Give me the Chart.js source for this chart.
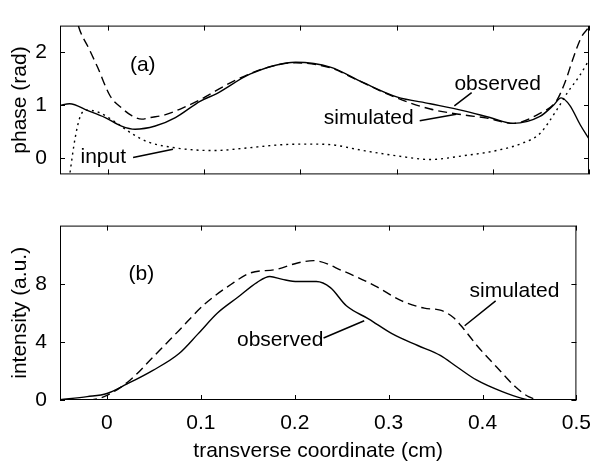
<!DOCTYPE html>
<html>
<head>
<meta charset="utf-8">
<script src="https://cdn.jsdelivr.net/npm/chart.js@4/dist/chart.umd.min.js"></script>
<style>
    body { margin: 0; background: #fff; }
    #wrap { position: relative; width: 602px; height: 465px; }
    canvas { position: absolute; left: 0; }
    #phase { top: 0; }
    #intensity { top: 200px; }
</style>
</head>
<body>
<div id="wrap">
    <canvas id="phase" width="602" height="200"></canvas>
    <canvas id="intensity" width="602" height="265"></canvas>
</div>
<script>
const xTicks = [0, 0.1, 0.2, 0.3, 0.4, 0.5]
const phaseTicks = [0, 1, 2]
const intensityTicks = [0, 4, 8]

// (a) phase, rad
const obsPhaseX = [-0.05, -0.04, -0.021, -0.003, 0.014, 0.028, 0.049, 0.07, 0.096, 0.113, 0.148, 0.195, 0.231, 0.265, 0.3, 0.335, 0.369, 0.397, 0.421, 0.449, 0.463, 0.471, 0.48, 0.491, 0.5]
const obsPhaseY = [1.0, 1.03, 0.9, 0.77, 0.61, 0.55, 0.61, 0.77, 1.08, 1.22, 1.59, 1.81, 1.72, 1.43, 1.16, 1.03, 0.9, 0.77, 0.66, 0.79, 1.0, 1.14, 1.0, 0.63, 0.37]

const simPhaseX = [-0.034, -0.031, -0.02, -0.011, 0.002, 0.014, 0.025, 0.035, 0.0436, 0.059, 0.075, 0.096, 0.13, 0.165, 0.195, 0.232, 0.255, 0.3, 0.335, 0.369, 0.394, 0.421, 0.449, 0.466, 0.475, 0.484, 0.492, 0.5]
const simPhaseY = [2.75, 2.5, 2.07, 1.72, 1.18, 0.95, 0.8, 0.74, 0.77, 0.82, 0.93, 1.11, 1.45, 1.71, 1.8, 1.7, 1.51, 1.14, 0.93, 0.82, 0.76, 0.66, 0.85, 1.08, 1.43, 1.91, 2.28, 2.47]

const inPhaseX = [-0.042, -0.0396, -0.0344, -0.029, -0.0223, -0.01, 0.0072, 0.0245, 0.0415, 0.066, 0.09, 0.113, 0.14, 0.182, 0.21, 0.231, 0.265, 0.3, 0.335, 0.369, 0.404, 0.431, 0.449, 0.466, 0.478, 0.49, 0.5]
const inPhaseY = [-0.6, -0.27, 0.37, 0.79, 0.91, 0.87, 0.69, 0.47, 0.31, 0.21, 0.16, 0.15, 0.19, 0.26, 0.27, 0.26, 0.15, 0.05, -0.02, 0.05, 0.15, 0.29, 0.47, 0.9, 1.25, 1.55, 1.85]

// (b) intensity, a.u.
const obsIntX = [-0.05, -0.021, 0.0, 0.021, 0.049, 0.0765, 0.097, 0.118, 0.139, 0.16, 0.1735, 0.187, 0.203, 0.223, 0.238, 0.255, 0.279, 0.304, 0.331, 0.355, 0.373, 0.394, 0.421, 0.442, 0.452, 0.5]
const obsIntY = [0.02, 0.23, 0.45, 1.09, 2.04, 3.18, 4.55, 6.0, 7.05, 8.1, 8.5, 8.3, 8.15, 8.15, 7.73, 6.48, 5.57, 4.55, 3.75, 3.07, 2.27, 1.36, 0.57, 0.11, 0, 0]

const simIntX = [-0.05, -0.02, -0.003, 0.0245, 0.049, 0.0765, 0.104, 0.132, 0.153, 0.18, 0.203, 0.22, 0.252, 0.286, 0.314, 0.338, 0.355, 0.369, 0.38, 0.394, 0.415, 0.435, 0.449, 0.463, 0.5]
const simIntY = [0, 0, 0.23, 1.36, 2.95, 4.77, 6.59, 7.95, 8.75, 8.98, 9.43, 9.59, 8.86, 7.84, 6.82, 6.32, 6.18, 5.68, 4.89, 3.75, 2.27, 0.91, 0.23, 0, 0]

// text labels and leader lines, in data units
const phaseNotes = [['(a)', 0.036, 1.75], ['input', -0.005, 0.02], ['observed', 0.405, 1.39], ['simulated', 0.271, 0.75]]
const phaseLeaders = [[0.026, 0.016, 0.0675, 0.175], [0.36, 0.99, 0.378, 1.24], [0.324, 0.71, 0.362, 0.83]]
const intensityNotes = [['(b)', 0.0366, 8.64], ['observed', 0.1845, 4.09], ['simulated', 0.434, 7.5]]
const intensityLeaders = [[0.2307, 4.27, 0.274, 5.45], [0.414, 6.82, 0.381, 5.11]]

Chart.defaults.font.family = '"Liberation Sans", Arial, Helvetica, sans-serif'
Chart.defaults.font.size = 21
Chart.defaults.color = '#000'

const DASHED = [9, 5]
const DOTTED = [2, 4]

function series(xs, ys, dash) {
    return {
        data: xs.map((x, i) => ({ x: x, y: ys[i] })),
        borderColor: '#000',
        borderWidth: 1.4,
        borderDash: dash,
        pointRadius: 0,
        fill: false,
        cubicInterpolationMode: 'monotone'
    }
}

// box, inward ticks on four sides, labels with leader lines
const frame = {
    id: 'frame',
    afterDraw(chart, args, opts) {
        const { ctx, chartArea: a, scales: { x, y } } = chart
        ctx.save()
        ctx.strokeStyle = '#000'
        ctx.lineWidth = 1
        ctx.strokeRect(a.left + 0.5, a.top + 0.5, a.width - 1, a.height - 1)
        ctx.beginPath()
        for (const t of x.ticks) {
            const px = Math.round(x.getPixelForValue(t.value)) + 0.5
            ctx.moveTo(px, a.bottom); ctx.lineTo(px, a.bottom - 5)
            ctx.moveTo(px, a.top); ctx.lineTo(px, a.top + 5)
        }
        for (const t of y.ticks) {
            const py = Math.round(y.getPixelForValue(t.value)) + 0.5
            ctx.moveTo(a.left, py); ctx.lineTo(a.left + 5, py)
            ctx.moveTo(a.right, py); ctx.lineTo(a.right - 5, py)
        }
        ctx.stroke()

        ctx.lineWidth = 1.5
        ctx.beginPath()
        for (const [x1, y1, x2, y2] of opts.leaders) {
            ctx.moveTo(x.getPixelForValue(x1), y.getPixelForValue(y1))
            ctx.lineTo(x.getPixelForValue(x2), y.getPixelForValue(y2))
        }
        ctx.stroke()

        ctx.fillStyle = '#000'
        ctx.font = '21px ' + Chart.defaults.font.family
        ctx.textAlign = 'center'
        ctx.textBaseline = 'middle'
        for (const [text, tx, ty] of opts.notes) {
            ctx.fillText(text, x.getPixelForValue(tx), y.getPixelForValue(ty))
        }
        ctx.restore()
    }
}

function makeChart(id, datasets, o) {
    const ctx = document.getElementById(id).getContext('2d')
    return new Chart(ctx, {
        type: 'line',
        data: { datasets: datasets },
        options: {
            responsive: false,
            animation: false,
            layout: { padding: { top: o.padTop, right: 13, left: 0, bottom: 0 } },
            plugins: {
                legend: { display: false },
                tooltip: { enabled: false },
                frame: { notes: o.notes, leaders: o.leaders }
            },
            scales: {
                x: {
                    type: 'linear',
                    min: -0.05,
                    max: 0.5,
                    afterBuildTicks: s => { s.ticks = xTicks.map(v => ({ value: v })) },
                    afterFit: s => { s.height = o.xHeight },
                    grid: { display: false, drawTicks: false },
                    border: { display: false },
                    ticks: { display: o.xLabels, padding: 11, autoSkip: false, maxRotation: 0, callback: v => String(v) },
                    title: { display: o.xLabels, text: 'transverse coordinate (cm)', padding: { top: 0, bottom: 1 } }
                },
                y: {
                    min: o.yMin,
                    max: o.yMax,
                    afterBuildTicks: s => { s.ticks = o.yTicks.map(v => ({ value: v })) },
                    afterFit: s => { s.width = 60 },
                    grid: { display: false, drawTicks: false },
                    border: { display: false },
                    ticks: { padding: 13, callback: v => String(v) },
                    title: { display: true, text: o.yTitle, padding: { top: 8, bottom: 0 } }
                }
            }
        },
        plugins: [frame]
    })
}

window.onload = () => {
    makeChart('phase', [
        series(obsPhaseX, obsPhaseY, []),
        series(simPhaseX, simPhaseY, DASHED),
        series(inPhaseX, inPhaseY, DOTTED)
    ], {
        padTop: 6, xHeight: 18, xLabels: false,
        yMin: -0.3, yMax: 2.5, yTicks: phaseTicks, yTitle: 'phase (rad)',
        notes: phaseNotes, leaders: phaseLeaders
    })

    makeChart('intensity', [
        series(obsIntX, obsIntY, []),
        series(simIntX, simIntY, DASHED)
    ], {
        padTop: 24, xHeight: 65, xLabels: true,
        yMin: 0, yMax: 12, yTicks: intensityTicks, yTitle: 'intensity (a.u.)',
        notes: intensityNotes, leaders: intensityLeaders
    })
}
</script>
</body>
</html>
